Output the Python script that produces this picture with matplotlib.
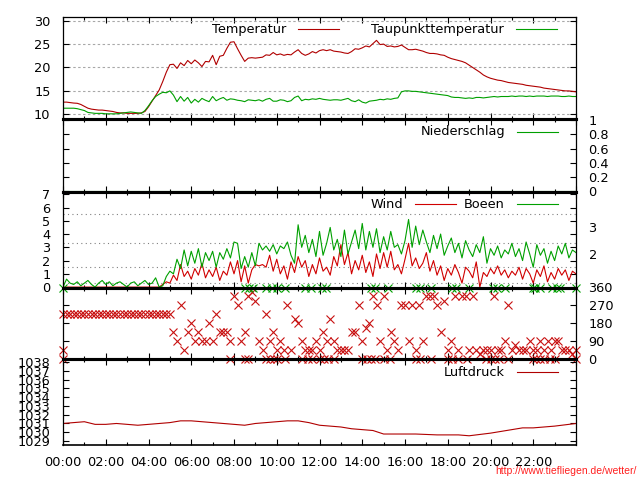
import numpy as np
import matplotlib
matplotlib.use('Agg')
import matplotlib.pyplot as plt
from matplotlib.lines import Line2D
from matplotlib.ticker import MultipleLocator, NullLocator, FuncFormatter

plt.rcParams['font.family'] = ['DejaVu Sans']
FS = 9.3

# ---------------- data (10-minute samples, 00:00 .. 24:00) ----------------
temperature = [
    12.6, 12.6, 12.5, 12.4, 12.35, 12.1, 11.7, 11.3, 11.1, 11.0, 10.9, 10.9,
    10.8, 10.7, 10.6, 10.4, 10.3, 10.3, 10.2, 10.2, 10.2, 10.2, 10.3, 10.6,
    11.6, 12.8, 14.0, 15.2, 17.0, 19.0, 20.6, 20.7, 19.8, 21.0, 20.4, 21.5,
    20.8, 21.6, 21.0, 20.2, 21.3, 21.2, 22.6, 20.6, 22.4, 22.6, 24.1, 25.4,
    25.5, 24.0, 22.6, 21.3, 22.0, 22.1, 22.0, 22.1, 22.2, 22.7, 22.6, 23.2,
    22.7, 22.9, 22.6, 22.8, 22.7, 23.3, 23.8, 23.0, 22.6, 22.9, 23.4, 23.1,
    23.6, 23.8, 23.6, 23.8, 23.5, 23.4, 23.3, 23.1, 23.0, 23.4, 24.0, 23.9,
    24.2, 24.6, 24.4, 25.1, 25.8, 24.9, 25.0, 24.5, 24.6, 24.4, 24.5, 24.8,
    24.3, 23.8, 23.8, 23.9, 23.7, 23.5, 23.2, 23.0, 23.0, 22.9, 22.7, 22.6,
    22.2, 21.9, 21.7, 21.5, 21.3, 21.0, 20.5, 20.0, 19.5, 19.0, 18.4, 18.0,
    17.7, 17.5, 17.3, 17.2, 17.0, 16.8, 16.7, 16.6, 16.5, 16.4, 16.2, 16.1,
    16.0, 15.9, 15.8, 15.6, 15.5, 15.4, 15.3, 15.2, 15.1, 15.0, 15.0, 14.9,
    14.8]
dewpoint = [
    11.3, 11.3, 11.3, 11.3, 11.2, 11.0, 10.8, 10.4, 10.3, 10.2, 10.2, 10.2,
    10.1, 10.1, 10.1, 10.1, 10.2, 10.3, 10.4, 10.5, 10.4, 10.3, 10.2, 10.8,
    11.8, 12.9, 13.8, 14.3, 14.7, 14.6, 15.0, 14.1, 12.7, 13.8, 12.8, 13.6,
    12.4, 13.2, 12.6, 13.4, 13.0, 12.7, 13.8, 12.9, 13.3, 13.6, 13.0, 13.3,
    13.2, 13.0, 12.9, 12.7, 13.1, 13.0, 12.9, 13.1, 12.8, 13.2, 13.4, 12.8,
    12.8, 13.1, 13.0, 12.7, 12.9, 13.6, 13.9, 12.9, 13.2, 13.1, 13.3, 13.2,
    13.4, 13.2, 13.1, 13.0, 13.1, 13.1, 13.0, 13.2, 13.4, 12.9, 12.7, 13.1,
    12.6, 12.4, 12.8, 12.9, 13.0, 13.2, 13.1, 13.3, 13.2, 13.4, 13.5, 14.8,
    15.0, 15.0, 14.9, 14.9, 14.8, 14.7, 14.6, 14.5, 14.4, 14.3, 14.2, 14.1,
    14.0, 13.7, 13.6, 13.6, 13.5, 13.4, 13.5, 13.4, 13.6, 13.6, 13.5, 13.6,
    13.7, 13.8, 13.7, 13.8, 13.8, 13.8, 13.9, 13.8, 13.9, 13.9, 13.8, 13.9,
    13.8, 13.9, 13.9, 13.9, 13.8, 13.9, 13.9, 13.9, 13.8, 13.8, 13.9, 13.8,
    13.8]
wind = [
    0.0, 0.0, 0.0, 0.0, 0.0, 0.0, 0.0, 0.0, 0.0, 0.0, 0.0, 0.0,
    0.0, 0.0, 0.0, 0.0, 0.0, 0.0, 0.0, 0.0, 0.0, 0.0, 0.0, 0.0,
    0.0, 0.0, 0.0, 0.0, 0.2, 0.4, 0.3, 0.9, 0.5, 1.7, 0.8, 1.2,
    0.6, 1.4, 0.9, 1.8, 0.7, 1.3, 0.8, 1.5, 0.5, 1.2, 0.9, 1.9,
    1.0, 2.0, 0.4, 1.6, 0.3, 1.3, 1.7, 1.6, 1.7, 1.5, 2.4, 1.2,
    2.1, 1.0, 1.6, 0.6, 1.9, 1.1, 2.3, 1.5, 2.0, 0.8, 1.7, 1.0,
    2.2, 1.2, 1.5, 0.9, 2.3, 1.6, 3.2, 1.7, 2.6, 1.0, 2.0, 1.3,
    2.4, 1.1, 1.9, 0.8, 2.5, 1.4, 2.6, 1.5, 2.7, 1.3, 1.7, 1.0,
    2.1, 3.3, 1.6, 2.2, 1.4, 1.8, 2.6, 1.2, 2.0, 0.9, 1.6, 0.5,
    1.4, 0.9, 1.7, 1.1, 0.3, 1.5, 1.2, 0.7, 1.9, 0.0, 1.1, 0.8,
    1.4, 1.0, 1.6, 0.9, 1.3, 0.7, 1.2, 0.9, 1.5, 0.6, 1.4, 1.0,
    0.3, 1.3, 0.8, 1.6, 0.4, 1.1, 0.6, 1.4, 0.9, 1.3, 0.5, 1.2,
    1.0]
gusts = [
    0.0, 0.6, 0.3, 0.2, 0.4, 0.1, 0.3, 0.5, 0.2, 0.0, 0.3, 0.5,
    0.2, 0.4, 0.1, 0.3, 0.4, 0.2, 0.0, 0.3, 0.4, 0.1, 0.3, 0.5,
    0.2, 0.3, 0.7, 0.0, 0.1, 0.8, 1.2, 1.0, 2.1, 1.4, 2.8, 1.6,
    2.7, 1.8, 2.9, 1.5, 2.6, 2.0, 2.7, 1.5, 2.6, 2.1, 2.9, 2.2,
    3.4, 3.3, 1.4, 2.3, 1.5, 2.6, 1.6, 3.3, 2.8, 3.1, 2.7, 3.2,
    2.5, 3.1, 2.9, 3.4, 2.4, 1.8, 4.7, 3.0, 3.9, 2.6, 3.6, 2.3,
    4.2, 2.4, 3.3, 4.5, 2.8, 3.6, 2.3, 4.3, 2.5, 3.4, 4.3, 2.9,
    4.8, 2.8, 4.2, 3.0, 4.4, 2.6, 3.8, 2.8, 4.2, 3.0, 3.2, 2.5,
    3.5, 5.1, 3.0, 4.6, 3.2, 4.3, 3.4, 2.6, 3.9, 2.9, 4.0, 2.4,
    3.1, 3.7, 2.6, 3.3, 2.2, 3.5, 2.8, 2.3, 3.2, 2.6, 3.8, 1.8,
    2.9, 2.4, 3.1, 2.2, 2.8, 2.5, 3.3, 2.3, 2.9, 2.0, 3.4, 2.5,
    1.5, 3.2, 2.4, 2.9, 1.8, 2.7, 2.0, 3.1, 2.5, 3.3, 2.2, 2.8,
    2.6]
direction = [
    225, 225, 225, 225, 225, 225, 225, 225, 225, 225, 225, 225,
    225, 225, 225, 225, 225, 225, 225, 225, 225, 225, 225, 225,
    225, 225, 225, 225, 225, 225, 225, 135, 90, 270, 45, 135,
    180, 90, 135, 90, 90, 180, 90, 225, 135, 135, 135, 90,
    315, 270, 90, 135, 315, 338, 293, 90, 45, 225, 90, 135,
    45, 90, 45, 270, 45, 203, 180, 90, 45, 45, 45, 90,
    45, 135, 90, 203, 90, 45, 45, 45, 45, 135, 135, 270,
    90, 158, 180, 315, 270, 90, 315, 45, 135, 90, 45, 270,
    270, 90, 270, 45, 270, 90, 315, 315, 315, 270, 135, 293,
    45, 90, 315, 45, 315, 315, 45, 315, 45, 23, 45, 45,
    45, 315, 45, 45, 90, 270, 45, 68, 45, 45, 45, 90,
    45, 45, 90, 45, 90, 45, 90, 90, 45, 45, 45, 23,
    45]
# calm readings: direction shown at 0 deg (red) and gust direction at 360 deg (green)
calm_hours = [0.0, 0.0, 7.8, 8.5, 8.65, 9.5, 9.7, 9.85, 10.0, 10.4, 11.2, 11.45,
              11.65, 12.0, 12.2, 12.4, 12.7, 14.0, 14.2, 14.4, 14.6, 15.0, 15.3,
              16.5, 16.7, 17.2, 18.0, 18.2, 18.5, 18.9, 19.8, 20.0, 20.2, 20.4,
              20.8, 22.0, 22.15, 22.3, 22.5, 22.8, 23.0, 24.0]
calm_deg = [45, 0, 0, 0, 0, 0, 0, 0, 0, 0, 0, 0,
            0, 0, 0, 0, 0, 0, 0, 0, 0, 0, 0,
            0, 0, 0, 0, 0, 0, 0, 0, 0, 0, 0,
            0, 0, 0, 0, 0, 0, 0, 0]
gust_calm_hours = [0.0, 8.5, 8.7, 8.9, 9.5, 9.8, 10.0, 10.4, 11.3, 11.6, 12.1, 12.3,
                   14.4, 14.6, 15.2, 16.5, 16.7, 17.2, 18.2, 18.4, 19.0, 20.1,
                   20.3, 20.7, 22.0, 22.1, 22.3, 22.9, 23.1, 23.25, 24.0]
gust_calm_deg = [360] * 0 + [360, 360, 360, 360, 360, 360, 360, 360, 360, 360, 360, 360,
                             360, 360, 360, 360, 360, 360, 360, 360, 360, 360,
                             360, 360, 360, 360, 360, 360, 360, 360, 360]
precip_hours = [0, 6, 12, 18, 24]
precip = [0.0, 0.0, 0.0, 0.0, 0.0]
pressure = [
    1031.0, 1031.1, 1031.2, 1030.9, 1030.9, 1031.0, 1030.9, 1030.8, 1030.9, 1031.0,
    1031.1, 1031.3, 1031.3, 1031.2, 1031.1, 1031.0, 1030.9, 1030.8, 1031.0, 1031.1,
    1031.2, 1031.3, 1031.3, 1031.1, 1030.8, 1030.7, 1030.6, 1030.4, 1030.3, 1030.2,
    1029.8, 1029.8, 1029.8, 1029.8, 1029.75, 1029.7, 1029.7, 1029.7, 1029.6, 1029.75,
    1029.9, 1030.1, 1030.3, 1030.5, 1030.5, 1030.6, 1030.7, 1030.85, 1031.0]
beaufort_limits = [0.3, 1.5, 3.3, 5.5]
beaufort_labels = ['2', '3']
url = 'http://www.tiefliegen.de/wetter/'

t10 = np.arange(len(temperature)) / 6.0
t30 = np.arange(len(pressure)) / 2.0

# ---------------- figure ----------------
W, H = 640, 480
fig = plt.figure(figsize=(6.4, 4.8), dpi=100, facecolor='white')
L, R = 63, 576


def add_ax(top, bottom):
    ax = fig.add_axes([L / W, 1 - bottom / H, (R - L) / W, (bottom - top) / H])
    ax.set_facecolor('none')
    return ax


RED_T = '#b00000'
RED_W = '#d00000'
GREEN = '#00a000'


def style(ax, ylim, yticks, left_lab, right_lab, top_lw=1.0, bottom_lw=1.0):
    ax.set_xlim(0, 24)
    ax.set_ylim(*ylim)
    ax.xaxis.set_major_locator(MultipleLocator(2))
    ax.xaxis.set_minor_locator(MultipleLocator(1))
    ax.tick_params(axis='x', which='both', direction='in', top=True, bottom=True,
                   labelbottom=False, width=0.8)
    ax.tick_params(axis='x', which='major', length=4)
    ax.tick_params(axis='x', which='minor', length=2.5)
    ax.set_yticks(yticks)
    ax.yaxis.set_minor_locator(NullLocator())
    ax.tick_params(axis='y', which='major', direction='in', left=True, right=True,
                   labelleft=left_lab, labelright=right_lab, length=4, width=0.8,
                   pad=9, labelsize=FS)
    for s in ('left', 'right'):
        ax.spines[s].set_linewidth(0.9)
    ax.spines['top'].set_linewidth(top_lw)
    ax.spines['bottom'].set_linewidth(bottom_lw)


# temperature
ax1 = add_ax(17, 119.3)
ax1.plot(t10, temperature, color=RED_T, lw=0.8)
ax1.plot(t10, dewpoint, color=GREEN, lw=0.8)
style(ax1, (8.93, 30.79), [10, 15, 20, 25, 30], True, False, top_lw=0.9, bottom_lw=2.2)
ax1.yaxis.grid(True, ls=(0, (2.2, 2.2)), color='#a8a8a8', lw=0.8)

# precipitation
ax2 = add_ax(119.3, 192)
ax2.plot(precip_hours, precip, color=GREEN, lw=0.8)
style(ax2, (-0.015, 1.015), [0, 0.2, 0.4, 0.6, 0.8, 1.0], False, True, top_lw=2.2, bottom_lw=2.2)
ax2.yaxis.set_major_formatter(FuncFormatter(lambda v, p: ('%g' % round(v, 1))))

# wind
ax3 = add_ax(192, 287.5)
ax3.plot(t10, wind, color=RED_W, lw=0.8)
ax3.plot(t10, gusts, color=GREEN, lw=0.8)
style(ax3, (-0.03, 7.17), list(range(0, 8)), True, False, top_lw=2.2, bottom_lw=2.2)
for v in beaufort_limits:
    ax3.axhline(v, ls=(0, (1, 3)), color='#808080', lw=0.8, zorder=0)
for k, lab in enumerate(beaufort_labels):
    ymid = (beaufort_limits[k + 1] + beaufort_limits[k + 2]) / 2
    ax3.annotate(lab, xy=(1.0, ymid), xycoords=('axes fraction', 'data'),
                 xytext=(9, 0), textcoords='offset points', ha='left', va='center',
                 fontsize=FS)

# direction
ax4 = add_ax(287.5, 359)
ax4.plot(t10, direction, ls='none', marker='x', ms=6, mew=0.8, color='#c81010', clip_on=False)
ax4.plot(calm_hours, calm_deg, ls='none', marker='x', ms=6, mew=0.8, color='#c81010', clip_on=False)
ax4.plot(gust_calm_hours, gust_calm_deg, ls='none', marker='x', ms=6, mew=0.8, color=GREEN, clip_on=False)
style(ax4, (0, 360), [0, 90, 180, 270, 360], False, True, top_lw=2.2, bottom_lw=2.2)

# pressure
ax5 = add_ax(359, 445)
ax5.plot(t30, pressure, color=RED_T, lw=0.8)
style(ax5, (1028.55, 1038.34), list(range(1029, 1039)), True, False, top_lw=2.2, bottom_lw=1.2)
ax5.tick_params(axis='x', which='major', labelbottom=True, labelsize=FS, pad=8)
ax5.xaxis.set_major_formatter(FuncFormatter(lambda v, p: '' if v >= 24 else '%02d:00' % int(v)))


# ---------------- gnuplot-style keys ----------------
def key(text, x_end, y, color):
    yf = 1 - y / H
    fig.text(x_end / W, yf, text, ha='right', va='center', fontsize=FS)
    fig.add_artist(Line2D([(x_end + 12) / W, (x_end + 53) / W], [yf, yf],
                          color=color, lw=0.8, transform=fig.transFigure))


key('Temperatur', 286, 29, RED_T)
key('Taupunkttemperatur', 504, 29, GREEN)
key('Niederschlag', 505, 132, GREEN)
key('Wind', 403, 204, RED_W)
key('Boeen', 505, 204, GREEN)
key('Luftdruck', 505, 372, RED_T)

fig.text(637 / W, 1 - 471 / H, url, ha='right', va='center', color='#ff2020',
         fontsize=7.5, family=['Liberation Sans', 'DejaVu Sans'])

fig.savefig('out.png', dpi=100, facecolor='white')
